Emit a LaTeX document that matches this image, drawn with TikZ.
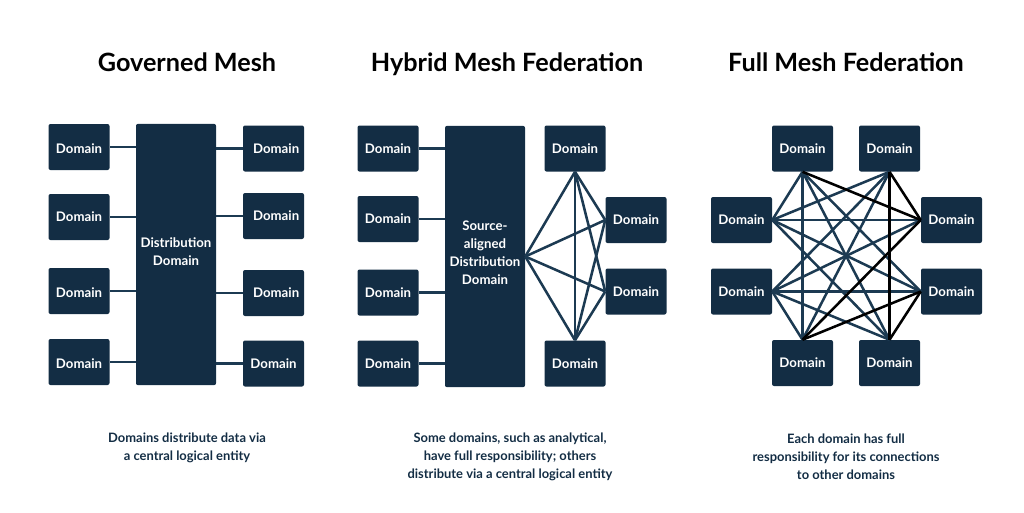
\documentclass[tikz,border=0pt]{standalone}
\usepackage{fontspec}
\setmainfont{Lato}
\definecolor{navy}{HTML}{132D44}
\definecolor{wire}{HTML}{1C3A52}
\tikzset{
  domainbox/.style={fill=navy,rounded corners=1.5pt,minimum width=45.75pt,minimum height=34.5pt,
    inner sep=0pt,text=white,font=\fontsize{9.9}{13.5}\selectfont\bfseries},
  lowtext/.style={text height=10pt},
  hubbox/.style={domainbox,minimum width=60pt,minimum height=196pt,align=center},
  title/.style={anchor=base,font=\fontsize{18.9}{23}\selectfont\bfseries,text=black},
  caption/.style={font=\fontsize{9.7}{13.5}\selectfont\bfseries,text=navy,align=center},
  wire/.style={draw=wire,line width=1.9pt},
  darkwire/.style={draw=black,line width=1.9pt}
}
\begin{document}
\begin{tikzpicture}[x=0.75pt,y=-0.75pt]
      \useasboundingbox (0,0) rectangle (1024,512);
      % headings
      \node[title] (title1) at (187,71) {Governed Mesh};
      \node[title] (title2) at (507,71) {Hybrid Mesh Federation};
      \node[title] (title3) at (846,71) {Full Mesh Federation};
      % governed mesh
      \node[hubbox,text depth=4.5pt] (hub1) at (176,254.5) {Distribution\\Domain};
      \node[domainbox,lowtext] (a1) at (79,147) {Domain};
      \node[domainbox] (a2) at (79,217) {Domain};
      \node[domainbox,lowtext] (a3) at (79,291) {Domain};
      \node[domainbox,lowtext] (a4) at (79,362) {Domain};
      \node[domainbox] (b1) at (273.5,148.5) {\hspace*{4pt}Domain};
      \node[domainbox] (b2) at (273.5,216) {\hspace*{4pt}Domain};
      \node[domainbox] (b3) at (273.5,293) {\hspace*{4pt}Domain};
      \node[domainbox] (b4) at (273.5,363.5) {Domain};
      \begin{scope}[wire]
        \draw (a1.east) to (a1.east -| hub1.west);
        \draw (a2.east) to (a2.east -| hub1.west);
        \draw (a3.east) to (a3.east -| hub1.west);
        \draw (a4.east) to (a4.east -| hub1.west);
        \draw (b1.west) to (b1.west -| hub1.east);
        \draw (b2.west) to (b2.west -| hub1.east);
        \draw (b3.west) to (b3.west -| hub1.east);
        \draw (b4.west) to (b4.west -| hub1.east);
      \end{scope}
      % hybrid mesh
      \node[hubbox,text depth=6pt] (hub2) at (485,256.5) {Source-\\aligned\\Distribution\\Domain};
      \node[domainbox] (c1) at (388,148.5) {Domain};
      \node[domainbox] (c2) at (388,219) {Domain};
      \node[domainbox] (c3) at (388,292.5) {Domain};
      \node[domainbox] (c4) at (388,363.5) {Domain};
      \node[domainbox] (d1) at (575,148.5) {Domain};
      \node[domainbox] (d2) at (636,220) {Domain};
      \node[domainbox] (d3) at (636,291.5) {Domain};
      \node[domainbox] (d4) at (575,363.5) {Domain};
      \begin{scope}[wire]
        \draw (c1.east) to (c1.east -| hub2.west);
        \draw (c2.east) to (c2.east -| hub2.west);
        \draw (c3.east) to (c3.east -| hub2.west);
        \draw (c4.east) to (c4.east -| hub2.west);
        \draw (hub2.east) to (d1.south);
        \draw (hub2.east) to (d2.west);
        \draw (hub2.east) to (d3.west);
        \draw (hub2.east) to (d4.north);
        \draw (d1.south) to (d2.west);
        \draw (d1.south) to (d3.west);
        \draw (d1.south) to (d4.north);
        \draw (d4.north) to (d2.west);
        \draw (d4.north) to (d3.west);
      \end{scope}
      % full mesh
      \node[domainbox] (t1) at (802.5,148.5) {Domain};
      \node[domainbox] (t2) at (889.5,148.5) {Domain};
      \node[domainbox] (l1) at (741.5,220) {Domain};
      \node[domainbox] (l2) at (741.5,291.5) {Domain};
      \node[domainbox] (r1) at (951.5,220) {Domain};
      \node[domainbox] (r2) at (951.5,291.5) {Domain};
      \node[domainbox] (u1) at (802.5,363) {Domain};
      \node[domainbox] (u2) at (889.5,363) {Domain};
      \begin{scope}[wire]
        \draw (t1.south) to (l1.east);
        \draw (t1.south) to (u1.north);
        \draw (t1.south) to (u2.north);
        \draw (t1.south) to (r2.west);
        \draw (t2.south) to (l1.east);
        \draw (t2.south) to (l2.east);
        \draw (t2.south) to (u1.north);
        \draw (l1.east) to (r1.west);
        \draw (l1.east) to (r2.west);
        \draw (l1.east) to (u2.north);
        \draw (l2.east) to (r1.west);
        \draw (l2.east) to (r2.west);
        \draw (l2.east) to (u1.north);
        \draw (l2.east) to (u2.north);
      \end{scope}
      \begin{scope}[darkwire]
        \draw (t1.south) to (r1.west);
        \draw (t2.south) to (r1.west);
        \draw (t2.south) to (u2.north);
        \draw (u1.north) to (r1.west);
        \draw (u1.north) to (r2.west);
        \draw (u2.north) to (r2.west);
      \end{scope}
      % captions
      \node[caption] (cap1) at (187,448) {Domains distribute data via\\a central logical entity};
      \node[caption] (cap2) at (510,457) {Some domains, such as analytical,\\have full responsibility; others\\distribute via a central logical entity};
      \node[caption] (cap3) at (846,457) {Each domain has full\\responsibility for its connections\\to other domains};
    \end{tikzpicture}
\end{document}
